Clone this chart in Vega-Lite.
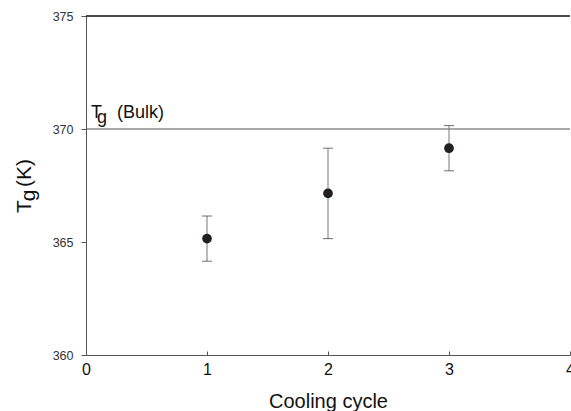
{
  "$schema": "https://vega.github.io/schema/vega-lite/v6.json",
  "width": 484,
  "height": 339,
  "autosize": "none",
  "padding": {"left": 86, "top": 16, "right": 1, "bottom": 56},
  "background": "white",
  "config": {
    "view": {"stroke": null},
    "font": "Liberation Sans",
    "text": {"font": "Liberation Sans", "fontWeight": "normal"},
    "axis": {"grid": false, "domainColor": "#555", "tickColor": "#555", "labelFont": "Liberation Sans", "titleFont": "Liberation Sans"}
  },
  "data": {
    "values": [
      {"cycle": 1, "tg": 365.15, "lo": 364.15, "hi": 366.15},
      {"cycle": 2, "tg": 367.15, "lo": 365.15, "hi": 369.15},
      {"cycle": 3, "tg": 369.15, "lo": 368.15, "hi": 370.15}
    ]
  },
  "layer": [
    {
      "data": {"values": [{}]},
      "mark": {"type": "rule", "color": "#555", "strokeWidth": 1},
      "encoding": {"y": {"datum": 370, "type": "quantitative"}}
    },
    {
      "data": {"values": [{}]},
      "mark": {"type": "rule", "color": "#111", "strokeWidth": 1.5},
      "encoding": {"y": {"datum": 375, "type": "quantitative"}}
    },
    {
      "mark": {"type": "rule", "color": "#777", "strokeWidth": 1},
      "encoding": {
        "x": {"field": "cycle", "type": "quantitative"},
        "y": {"field": "lo", "type": "quantitative"},
        "y2": {"field": "hi"}
      }
    },
    {
      "mark": {"type": "tick", "orient": "horizontal", "size": 10, "thickness": 1, "color": "#333"},
      "encoding": {
        "x": {"field": "cycle", "type": "quantitative"},
        "y": {"field": "lo", "type": "quantitative"}
      }
    },
    {
      "mark": {"type": "tick", "orient": "horizontal", "size": 10, "thickness": 1, "color": "#333"},
      "encoding": {
        "x": {"field": "cycle", "type": "quantitative"},
        "y": {"field": "hi", "type": "quantitative"}
      }
    },
    {
      "mark": {"type": "point", "filled": true, "size": 95, "color": "#231f20", "opacity": 1},
      "encoding": {
        "x": {
          "field": "cycle", "type": "quantitative",
          "scale": {"domain": [0, 4], "nice": false, "zero": false},
          "axis": {"values": [0, 1, 2, 3, 4], "format": "d", "title": "Cooling cycle", "titleFontSize": 20, "titleFontWeight": "normal", "titleColor": "#111", "labelFontSize": 16, "labelColor": "#111", "tickSize": -4, "labelPadding": 10, "titlePadding": 14, "labelFlush": false, "labelOverlap": false}
        },
        "y": {
          "field": "tg", "type": "quantitative",
          "scale": {"domain": [360, 375], "nice": false, "zero": false},
          "axis": {"values": [360, 365, 370, 375], "format": "d", "title": null, "labelFontSize": 12.5, "labelColor": "#333", "tickSize": 5, "labelPadding": 8}
        }
      }
    },
    {
      "data": {"values": [{}]},
      "mark": {"type": "text", "text": "T", "font": "Liberation Sans", "fontSize": 18, "align": "left", "baseline": "alphabetic", "color": "#111"},
      "encoding": {"x": {"datum": 0.041, "type": "quantitative"}, "y": {"datum": 370.49, "type": "quantitative"}}
    },
    {
      "data": {"values": [{}]},
      "mark": {"type": "text", "text": "g", "font": "Liberation Sans", "fontSize": 18, "align": "left", "baseline": "alphabetic", "color": "#111"},
      "encoding": {"x": {"datum": 0.091, "type": "quantitative"}, "y": {"datum": 370.27, "type": "quantitative"}}
    },
    {
      "data": {"values": [{}]},
      "mark": {"type": "text", "text": "(Bulk)", "font": "Liberation Sans", "fontSize": 18, "align": "left", "baseline": "alphabetic", "color": "#111"},
      "encoding": {"x": {"datum": 0.256, "type": "quantitative"}, "y": {"datum": 370.49, "type": "quantitative"}}
    },
    {
      "data": {"values": [{}]},
      "mark": {"type": "text", "text": "T", "font": "Liberation Sans", "fontSize": 21, "align": "left", "baseline": "alphabetic", "angle": 270, "color": "#111"},
      "encoding": {"x": {"datum": -0.455, "type": "quantitative"}, "y": {"datum": 366.28, "type": "quantitative"}}
    },
    {
      "data": {"values": [{}]},
      "mark": {"type": "text", "text": "g", "font": "Liberation Sans", "fontSize": 21, "align": "left", "baseline": "alphabetic", "angle": 270, "color": "#111"},
      "encoding": {"x": {"datum": -0.418, "type": "quantitative"}, "y": {"datum": 366.8, "type": "quantitative"}}
    },
    {
      "data": {"values": [{}]},
      "mark": {"type": "text", "text": "(K)", "font": "Liberation Sans", "fontSize": 21, "align": "left", "baseline": "alphabetic", "angle": 270, "color": "#111"},
      "encoding": {"x": {"datum": -0.455, "type": "quantitative"}, "y": {"datum": 367.43, "type": "quantitative"}}
    }
  ]
}
